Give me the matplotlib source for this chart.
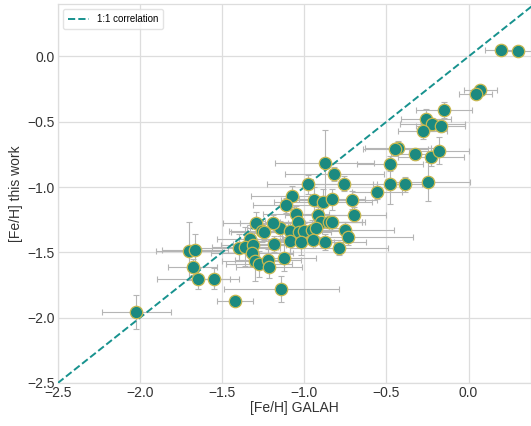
import matplotlib.pyplot as plt
import numpy as np

plt.rcParams['font.family'] = ['Liberation Sans', 'DejaVu Sans']

# [Fe/H] from GALAH and from this work, with uncertainties
feh_galah = [0.20, 0.30, 0.07, 0.043, -0.15, -0.26, -0.22, -0.17, -0.28, -0.43,
             -0.445, -0.325, -0.23, -0.18, -0.48, -0.876, -0.817, -0.977, -0.758, -0.48,
             -0.384, -0.25, -0.557, -1.077, -1.114, -0.94, -0.886, -0.83, -0.71, -0.70,
             -0.916, -1.05, -1.04, -0.90, -0.85, -0.83, -1.146, -1.09, -1.035, -1.004,
             -0.953, -0.927, -0.752, -0.736, -1.085, -1.02, -0.95, -0.876, -0.79, -1.126,
             -1.14, -1.297, -1.193, -1.26, -1.244, -1.33, -1.396, -1.36, -1.31, -1.183,
             -1.317, -1.30, -1.276, -1.22, -1.213, -1.70, -1.665, -1.68, -1.646, -1.55,
             -1.42, -2.024]
feh_work = [0.05, 0.04, -0.255, -0.29, -0.41, -0.48, -0.52, -0.53, -0.57, -0.70,
            -0.71, -0.75, -0.77, -0.72, -0.82, -0.816, -0.90, -0.98, -0.973, -0.98,
            -0.98, -0.96, -1.04, -1.07, -1.14, -1.10, -1.116, -1.093, -1.10, -1.21,
            -1.21, -1.206, -1.27, -1.27, -1.27, -1.27, -1.317, -1.336, -1.343, -1.336,
            -1.325, -1.317, -1.33, -1.386, -1.41, -1.42, -1.407, -1.42, -1.47, -1.54,
            -1.78, -1.274, -1.277, -1.338, -1.343, -1.394, -1.463, -1.458, -1.44, -1.437,
            -1.504, -1.567, -1.59, -1.555, -1.615, -1.49, -1.48, -1.61, -1.70, -1.70,
            -1.875, -1.955]
err_galah = [0.10, 0.10, 0.10, 0.10, 0.17, 0.15, 0.20, 0.15, 0.15, 0.20,
             0.20, 0.15, 0.20, 0.18, 0.20, 0.30, 0.30, 0.25, 0.20, 0.10,
             0.10, 0.26, 0.15, 0.25, 0.20, 0.20, 0.30, 0.20, 0.15, 0.20,
             0.20, 0.20, 0.20, 0.25, 0.20, 0.20, 0.20, 0.20, 0.20, 0.25,
             0.20, 0.20, 0.30, 0.40, 0.20, 0.20, 0.20, 0.25, 0.30, 0.20,
             0.35, 0.20, 0.20, 0.20, 0.20, 0.20, 0.25, 0.20, 0.20, 0.25,
             0.25, 0.20, 0.20, 0.20, 0.20, 0.20, 0.20, 0.15, 0.25, 0.10,
             0.11, 0.21]
err_work = [0.02, 0.02, 0.03, 0.03, 0.06, 0.08, 0.05, 0.05, 0.06, 0.05,
            0.05, 0.04, 0.07, 0.10, 0.06, 0.25, 0.05, 0.07, 0.06, 0.15,
            0.06, 0.15, 0.05, 0.08, 0.06, 0.10, 0.10, 0.08, 0.07, 0.06,
            0.06, 0.06, 0.08, 0.06, 0.06, 0.06, 0.06, 0.06, 0.10, 0.06,
            0.07, 0.06, 0.06, 0.06, 0.10, 0.10, 0.06, 0.06, 0.05, 0.10,
            0.10, 0.08, 0.06, 0.08, 0.06, 0.10, 0.10, 0.15, 0.06, 0.06,
            0.10, 0.15, 0.10, 0.08, 0.08, 0.22, 0.12, 0.06, 0.08, 0.08,
            0.02, 0.13]

one_to_one = [-2.5, 0.5]

fig = plt.figure(figsize=(5.31, 4.26), dpi=100)
ax = fig.add_axes([0.109, 0.101, 0.891, 0.889])

ax.grid(True, color='#dddddd', linewidth=0.9, zorder=0)
ax.set_axisbelow(True)
for s in ax.spines.values():
    s.set_color('#dddddd')
    s.set_linewidth(0.9)

ax.plot(one_to_one, one_to_one, '--', color='#17928e', linewidth=1.4,
        label='1:1 correlation', zorder=3)
ax.errorbar(feh_galah, feh_work, xerr=err_galah, yerr=err_work, fmt='none',
            ecolor='#b5b5b5', elinewidth=0.8, capsize=2, capthick=0.8, zorder=2)
ax.scatter(feh_galah, feh_work, s=80, color='#1c8a80', edgecolor='#c8b950',
           linewidth=0.9, zorder=4)

ax.set_xlim(-2.5, 0.38)
ax.set_ylim(-2.5, 0.40)
ax.set_xticks(np.arange(-2.5, 0.01, 0.5))
ax.set_yticks(np.arange(-2.5, 0.01, 0.5))
ax.tick_params(length=0, labelsize=10, labelcolor='#333333', pad=2)
ax.set_xlabel('[Fe/H] GALAH', fontsize=10, color='#333333', labelpad=1)
ax.set_ylabel('[Fe/H] this work', fontsize=10, color='#333333', labelpad=3)

ax.legend(loc='upper left', fontsize=7, frameon=True, edgecolor='#dddddd',
          handlelength=2.2, borderpad=0.5)

fig.savefig('out.png', dpi=100)
